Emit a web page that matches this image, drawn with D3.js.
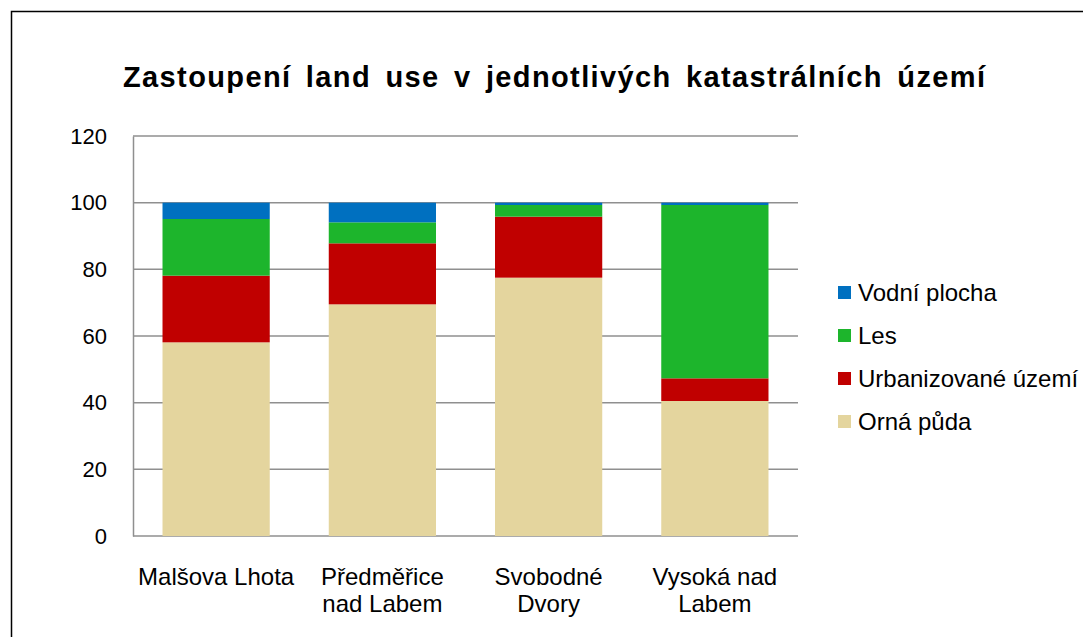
<!DOCTYPE html>
<html>
<head>
<meta charset="utf-8">
<script src="https://cdn.jsdelivr.net/npm/d3@7"></script>
<style>
  body { margin: 0; background: #fff; overflow: hidden; }
  text { font-family: "Liberation Sans", Arial, sans-serif; fill: #000; }
</style>
</head>
<body>
<script>
//Categories and series (values in %)
var categories = ["Malšova Lhota", "Předměřice nad Labem", "Svobodné Dvory", "Vysoká nad Labem"];
var categoryLines = [["Malšova Lhota"], ["Předměřice", "nad Labem"], ["Svobodné", "Dvory"], ["Vysoká nad", "Labem"]];
var seriesNames = ["Orná půda", "Urbanizované území", "Les", "Vodní plocha"];
var ornaPuda = [58.1, 69.5, 77.5, 40.5];
var urbanizovane = [20.0, 18.3, 18.3, 6.8];
var les = [17.0, 6.3, 3.5, 52.0];
var vodniPlocha = [4.9, 5.9, 0.7, 0.7];
var yTicks = [0, 20, 40, 60, 80, 100, 120];
var colors = ["#E4D59E", "#C00000", "#1DB52C", "#0070C0"];

var w = 1083, h = 637;
var mLeft = 133, mRight = 798, mTop = 136, mBottom = 536;

var dataset = categories.map(function(c, i){
    return {cat: c, "Orná půda": ornaPuda[i], "Urbanizované území": urbanizovane[i],
            "Les": les[i], "Vodní plocha": vodniPlocha[i]};
});

var svg = d3.select("body").append("svg")
    .attr("width", w)
    .attr("height", h);

//Outer frame
svg.append("rect")
    .attr("x", 11.5).attr("y", 11.5)
    .attr("width", w).attr("height", h)
    .attr("fill", "none").attr("stroke", "#000").attr("stroke-width", 1.5);

//Title
svg.append("text")
    .attr("x", 123).attr("y", 87)
    .attr("font-size", 29).attr("font-weight", "bold")
    .attr("textLength", 862).attr("lengthAdjust", "spacing")
    .attr("word-spacing", 5)
    .text("Zastoupení land use v jednotlivých katastrálních území");

var xScale = d3.scaleBand().domain(categories).range([mLeft, mRight]).paddingInner(0.355).paddingOuter(0.1775);
var yScale = d3.scaleLinear().domain([0, 120]).range([mBottom, mTop]);

//Gridlines
svg.append("g").selectAll("line")
    .data(yTicks)
    .enter().append("line")
    .attr("x1", mLeft).attr("x2", mRight)
    .attr("y1", function(d){ return yScale(d); })
    .attr("y2", function(d){ return yScale(d); })
    .attr("stroke", "#8f8f8f").attr("stroke-width", 1.5);

//Stacked bars
var stack = d3.stack().keys(seriesNames);
var layers = stack(dataset);

svg.append("g").selectAll("g")
    .data(layers)
    .enter().append("g")
    .attr("fill", function(d, i){ return colors[i]; })
    .selectAll("rect")
    .data(function(d){ return d; })
    .enter().append("rect")
    .attr("x", function(d){ return xScale(d.data.cat); })
    .attr("width", xScale.bandwidth())
    .attr("y", function(d){ return yScale(d[1]); })
    .attr("height", function(d){ return yScale(d[0]) - yScale(d[1]); });

//Y axis
var yAxis = d3.axisLeft(yScale).tickValues(yTicks).tickSize(0).tickPadding(26);
var gy = svg.append("g").attr("transform", "translate(" + mLeft + ",0)").call(yAxis);
gy.select(".domain").attr("stroke", "#8f8f8f").attr("stroke-width", 1.5);
gy.selectAll("text").attr("font-size", 22).attr("font-family", "Liberation Sans, Arial, sans-serif").attr("fill", "#000");

//Category labels
var xl = svg.append("g").selectAll("text")
    .data(categories)
    .enter().append("text")
    .attr("y", 585)
    .attr("text-anchor", "middle")
    .attr("font-size", 24);
xl.selectAll("tspan")
    .data(function(d, i){ return categoryLines[i].map(function(t){ return {cat: d, t: t}; }); })
    .enter().append("tspan")
    .attr("x", function(d){ return xScale(d.cat) + xScale.bandwidth() / 2; })
    .attr("dy", function(d, i){ return i === 0 ? 0 : 27; })
    .text(function(d){ return d.t; });

//Legend
var legendOrder = seriesNames.slice().reverse();
var legend = svg.append("g").selectAll("g")
    .data(legendOrder)
    .enter().append("g")
    .attr("transform", function(d, i){ return "translate(838," + (293 + i * 43) + ")"; });
legend.append("rect")
    .attr("x", 0).attr("y", -7)
    .attr("width", 13).attr("height", 13)
    .attr("fill", function(d){ return colors[seriesNames.indexOf(d)]; });
legend.append("text")
    .attr("x", 20).attr("y", 8)
    .attr("font-size", 24)
    .text(function(d){ return d; });
</script>
</body>
</html>
